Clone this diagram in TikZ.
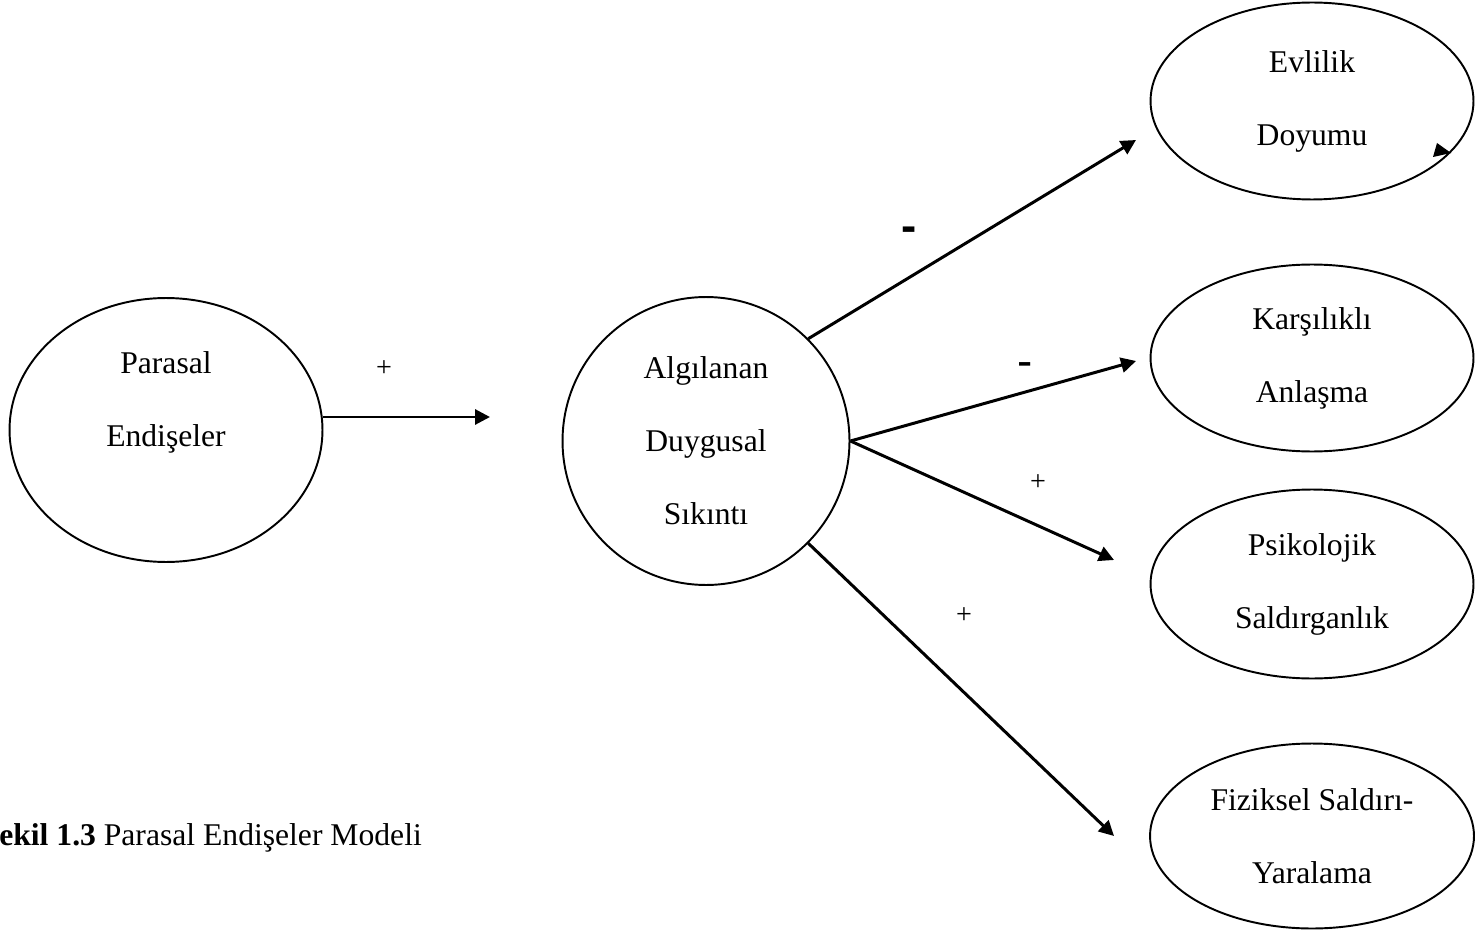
\documentclass[tikz,border=0pt]{standalone}
\usepackage{fontspec}
\setmainfont{Liberation Serif}
\newfontfamily\signfont{Liberation Sans}
\usetikzlibrary{shapes.geometric,arrows.meta}
\begin{document}
\begin{tikzpicture}[x=0.02cm,y=-0.02cm,
  bubble/.style={draw,ellipse,line width=1.1pt,inner sep=0pt,align=center,
    font=\fontsize{18}{41.5}\selectfont},
  link/.style={line width=1.7pt,-{Triangle[length=0.3cm,width=0.3cm]}},
  plus/.style={font=\fontsize{16}{16}\selectfont},
  minus/.style={font=\signfont\fontsize{26}{26}\selectfont}]
  \useasboundingbox (0,0) rectangle (1476,932);
  % cause and mediator
  \node [bubble,minimum width=6.26cm,minimum height=5.28cm] (par) at (166,430) {};
  \node [align=center,font=\fontsize{18}{41.5}\selectfont] (partxt) at (166,402) {Parasal\\Endişeler};
  \node [bubble,minimum width=5.74cm,minimum height=5.76cm] (alg) at (706,441) {Algılanan\\Duygusal\\Sıkıntı};
  % outcomes
  \node [bubble,minimum width=6.46cm,minimum height=3.94cm] (evl) at (1312,101) {Evlilik\\Doyumu};
  \node [bubble,minimum width=6.46cm,minimum height=3.74cm] (kar) at (1312,358) {Karşılıklı\\Anlaşma};
  \node [bubble,minimum width=6.46cm,minimum height=3.78cm] (psi) at (1312,584) {Psikolojik\\Saldırganlık};
  \node [bubble,minimum width=6.48cm,minimum height=3.7cm] (fiz) at (1312,836) {Fiziksel Saldırı-\\Yaralama};
  % arrow ends
  \coordinate (t0) at (490,417);
  \coordinate (t1) at (1136,140);
  \coordinate (t2) at (1136,361);
  \coordinate (t3) at (1114,560);
  \coordinate (t4) at (1114,836);
  \draw [link] (t0 -| par.east) -- (t0);
  \draw [link] (alg.45) -- (t1);
  \draw [link] (alg.east) -- (t2);
  \draw [link] (alg.east) -- (t3);
  \draw [link] (alg.-45) -- (t4);
  % signs
  \node [plus] (s0) at (384,369) {+};
  \node [minus,font=\signfont\bfseries\fontsize{26}{26}\selectfont] (s1) at (909,234) {-};
  \node [minus] (s2) at (1025,370) {-};
  \node [plus] (s3) at (1038,483) {+};
  \node [plus] (s4) at (964,616) {+};
  \fill (1437,143) -- (1433,157) -- (1451,153) -- cycle;
  \node [anchor=base east,font=\fontsize{18}{20}\selectfont] (cap) at (428,845)
    {\textbf{Şekil 1.3} Parasal Endişeler Modeli};
\end{tikzpicture}
\end{document}
